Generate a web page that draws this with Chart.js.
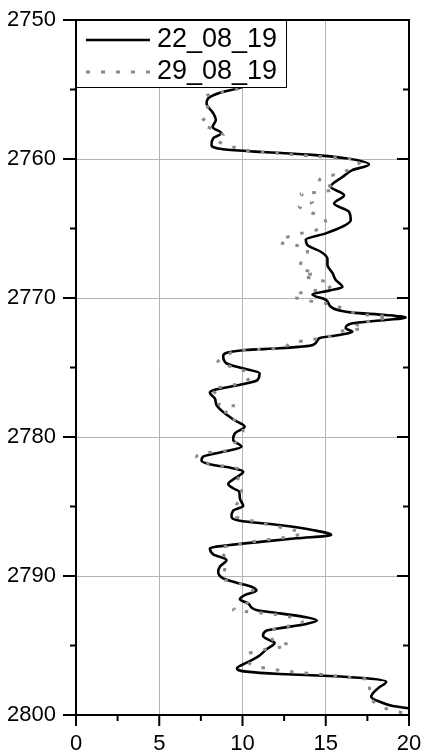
<!DOCTYPE html>
<html>
<head>
<meta charset="utf-8">
<script src="https://cdn.jsdelivr.net/npm/chart.js@4.4.1/dist/chart.umd.min.js"></script>
<style>
  html, body { margin: 0; padding: 0; background: #fff; }
  #wrap { width: 422px; height: 751px; position: relative; }
</style>
</head>
<body>
<div id="wrap"><canvas id="js-log-chart"></canvas></div>
<script>
// series labels
const seriesNames = ['22_08_19', '29_08_19']

// depth (m) and value pairs for the solid curve
const depth1 = [2754.3, 2754.85, 2755.23, 2755.64, 2756.0, 2756.7, 2757.2, 2757.7, 2758.15, 2758.5,
  2759.0, 2759.3, 2759.5, 2759.7, 2759.95, 2760.4, 2760.8, 2761.3, 2762.0, 2762.6,
  2763.2, 2763.8, 2764.4, 2764.87, 2765.35, 2765.8, 2766.2, 2766.67, 2767.15, 2767.6,
  2768.2, 2768.7, 2769.2, 2769.47, 2769.74, 2770.15, 2770.74, 2771.05, 2771.22, 2771.4,
  2771.58, 2771.82, 2772.18, 2772.42, 2772.66, 2772.9, 2773.38, 2773.62, 2773.74, 2774.17,
  2774.7, 2775.06, 2775.42, 2775.9, 2776.26, 2776.57, 2776.81, 2777.22, 2777.7, 2778.3,
  2778.78, 2779.26, 2779.74, 2780.22, 2780.7, 2781.06, 2781.41, 2781.7, 2782.01, 2782.2,
  2782.5, 2782.97, 2783.38, 2783.69, 2783.93, 2784.41, 2784.96, 2785.3, 2785.73, 2786.02,
  2786.33, 2786.69, 2787.05, 2787.29, 2787.53, 2787.77, 2788.01, 2788.44, 2788.85, 2789.33,
  2789.69, 2790.17, 2790.48, 2790.77, 2791.05, 2791.37, 2791.68, 2791.97, 2792.45, 2792.69,
  2792.97, 2793.21, 2793.45, 2793.76, 2793.93, 2794.32, 2794.6, 2794.8, 2795.28, 2795.8,
  2796.24, 2796.64, 2796.88, 2797.05, 2797.19, 2797.36, 2797.6, 2798.08, 2798.68, 2799.04,
  2799.35, 2799.52, 2799.7]
const value1 = [10.4, 9.93, 8.64, 7.94, 7.84, 8.24, 8.4, 8.2, 8.74, 8.24,
  8.14, 8.84, 11.2, 14.2, 16.2, 17.6, 16.6, 16.0, 15.3, 16.1,
  15.5, 16.4, 16.5, 16.0, 15.0, 13.8, 13.9, 14.7, 15.1, 15.1,
  15.4, 15.6, 16.0, 15.2, 14.2, 15.03, 15.43, 16.6, 18.6, 19.8,
  18.6, 16.6, 16.2, 16.6, 15.8, 14.6, 14.23, 12.2, 10.2, 8.84,
  9.04, 10.03, 11.03, 10.9, 9.8, 8.44, 8.04, 8.34, 8.44, 8.94,
  9.5, 10.13, 9.54, 9.44, 9.94, 8.84, 7.64, 7.54, 8.24, 9.24,
  10.04, 9.54, 9.14, 9.44, 9.8, 9.84, 10.04, 9.44, 9.34, 9.84,
  12.2, 14.2, 15.33, 13.24, 11.2, 9.24, 8.04, 8.24, 9.04, 8.64,
  8.54, 8.84, 9.64, 10.54, 10.84, 10.14, 9.84, 10.34, 10.84, 12.24,
  13.83, 14.47, 13.83, 12.24, 11.43, 11.23, 11.6, 11.93, 11.43, 10.93,
  10.24, 9.67, 10.24, 12.24, 15.23, 17.43, 18.63, 18.13, 17.73, 18.23,
  19.03, 20.03, 21.0]

// depth and value pairs for the dotted curve
const depth2 = [2754.3, 2754.9, 2755.2, 2755.5, 2756.2, 2756.8, 2757.4, 2757.9, 2758.3, 2758.6,
  2759.1, 2759.4, 2759.6, 2759.8, 2759.95, 2760.15, 2760.6, 2761.1, 2761.3, 2761.7,
  2762.1, 2762.4, 2762.5, 2762.75, 2763.1, 2763.4, 2763.7, 2764.1, 2764.5, 2765.2,
  2765.4, 2766.0, 2766.2, 2766.4, 2767.0, 2767.15, 2767.5, 2767.9, 2768.2, 2768.4,
  2768.66, 2769.07, 2769.4, 2769.55, 2769.86, 2770.2, 2770.4, 2770.74, 2771.05, 2771.25,
  2771.34, 2771.65, 2771.87, 2772.13, 2772.42, 2772.83, 2773.02, 2773.21, 2773.62, 2773.7,
  2773.74, 2774.03, 2774.65, 2774.99, 2775.54, 2776.02, 2776.33, 2776.57, 2777.05, 2777.7,
  2777.77, 2778.35, 2778.9, 2779.6, 2780.45, 2781.06, 2781.13, 2781.46, 2781.9, 2782.37,
  2783.33, 2783.81, 2784.41, 2784.89, 2785.73, 2786.04, 2786.33, 2786.57, 2786.93, 2787.17,
  2787.34, 2787.48, 2787.7, 2788.0, 2788.73, 2789.45, 2790.17, 2790.53, 2791.0, 2791.6,
  2792.2, 2792.45, 2792.57, 2792.69, 2792.88, 2793.3, 2793.65, 2793.93, 2794.72, 2794.96,
  2795.13, 2795.32, 2795.68, 2796.4, 2796.64, 2796.81, 2796.95, 2797.05, 2797.17, 2797.29,
  2797.39, 2797.72, 2798.08, 2798.8, 2799.4, 2799.69, 2799.88, 2800.1]
const value2 = [10.4, 9.84, 8.74, 7.74, 7.9, 7.94, 7.5, 8.3, 8.84, 8.44,
  9.34, 10.4, 12.2, 14.2, 16.2, 17.1, 16.6, 15.7, 14.8, 14.6,
  15.6, 14.5, 13.5, 13.9, 14.2, 13.4, 13.8, 14.6, 15.0, 14.2,
  13.3, 12.2, 13.2, 13.9, 13.9, 13.7, 13.5, 13.4, 14.4, 13.6,
  14.5, 15.4, 14.7, 13.8, 13.0, 14.0, 15.03, 16.0, 16.7, 17.7,
  18.8, 17.8, 16.8, 17.3, 15.8, 15.03, 14.03, 13.03, 12.03, 11.0,
  10.1, 9.2, 8.5, 9.5, 10.5, 10.1, 9.2, 8.1, 8.6, 8.6,
  9.6, 8.9, 9.7, 10.04, 9.54, 8.74, 7.84, 7.24, 7.94, 9.94,
  9.64, 9.94, 9.94, 9.64, 9.64, 10.6, 11.6, 12.6, 13.6, 12.8,
  11.9, 10.9, 9.94, 8.64, 8.94, 8.94, 8.74, 9.84, 10.6, 10.54,
  9.94, 9.44, 10.34, 11.43, 12.6, 13.6, 12.6, 11.63, 11.93, 12.83,
  12.24, 11.23, 10.24, 10.54, 11.43, 12.44, 13.43, 14.43, 15.43, 16.43,
  17.33, 17.73, 17.63, 17.73, 18.33, 19.03, 19.73, 20.5]

// tick positions
const xMajor = [0, 5, 10, 15, 20]
const xMinor = [2.5, 7.5, 12.5, 17.5]
const yMajor = [2750, 2760, 2770, 2780, 2790, 2800]
const yMinor = [2755, 2765, 2775, 2785, 2795]

const FONT = '"Liberation Sans", Arial, sans-serif'

function toPoints(depths, values) {
  return depths.map((d, i) => ({ x: values[i], y: d }))
}

// frame + tick marks drawn over the plot
const framePlugin = {
  id: 'frame',
  afterDraw(chart) {
    const { ctx, chartArea: a, scales } = chart
    ctx.save()
    ctx.strokeStyle = '#000'
    ctx.lineWidth = 2
    ctx.strokeRect(a.left, a.top, a.right - a.left, a.bottom - a.top)

    ctx.beginPath()
    yMajor.forEach(v => {
      const py = scales.y.getPixelForValue(v)
      ctx.moveTo(a.left - 13, py); ctx.lineTo(a.left, py)
      ctx.moveTo(a.right - 12, py); ctx.lineTo(a.right, py)
    })
    yMinor.forEach(v => {
      const py = scales.y.getPixelForValue(v)
      ctx.moveTo(a.left - 6, py); ctx.lineTo(a.left, py)
      ctx.moveTo(a.right - 6, py); ctx.lineTo(a.right, py)
    })
    xMajor.forEach(v => {
      const px = scales.x.getPixelForValue(v)
      ctx.moveTo(px, a.bottom); ctx.lineTo(px, a.bottom + 11)
    })
    xMinor.forEach(v => {
      const px = scales.x.getPixelForValue(v)
      ctx.moveTo(px, a.bottom); ctx.lineTo(px, a.bottom + 6)
    })
    ctx.stroke()
    ctx.restore()
  }
}

// boxed legend in the top-left corner of the plot
const boxLegendPlugin = {
  id: 'boxLegend',
  afterDatasetsDraw(chart) {
    const { ctx, chartArea: a } = chart
    const ds = chart.data.datasets
    const bx = a.left, by = a.top, bw = 210, bh = 67
    ctx.save()
    ctx.fillStyle = '#fff'
    ctx.fillRect(bx, by, bw, bh)
    ctx.strokeStyle = '#000'
    ctx.lineWidth = 1
    ctx.strokeRect(bx + 0.5, by + 0.5, bw, bh)

    const rows = [by + 20, by + 52]
    ds.forEach((d, i) => {
      const yy = rows[i]
      ctx.beginPath()
      ctx.strokeStyle = d.borderColor
      ctx.lineWidth = d.borderWidth
      ctx.setLineDash(i === 1 ? [4, 11] : [])
      ctx.moveTo(bx + 10, yy)
      ctx.lineTo(bx + 74, yy)
      ctx.stroke()
      ctx.setLineDash([])
      ctx.fillStyle = '#000'
      ctx.font = '27px ' + FONT
      ctx.textBaseline = 'middle'
      ctx.fillText(d.label, bx + 81, yy)
    })
    ctx.restore()
  }
}

const logContext = document.getElementById('js-log-chart').getContext('2d')

const logChart = new Chart(logContext, {
  type: 'line',
  data: {
    datasets: [
      {
        label: seriesNames[0],
        data: toPoints(depth1, value1),
        borderColor: '#000000',
        borderWidth: 2.6,
        pointRadius: 0,
        cubicInterpolationMode: 'monotone',
        order: 1,
      },
      {
        label: seriesNames[1],
        data: toPoints(depth2, value2),
        borderColor: '#8a8a8a',
        borderWidth: 3,
        borderDash: [3.5, 11],
        pointRadius: 0,
        cubicInterpolationMode: 'monotone',
        order: 0,
      },
    ],
  },
  options: {
    indexAxis: 'y',
    responsive: true,
    maintainAspectRatio: false,
    animation: false,
    layout: { padding: { top: 20, right: 13, left: 0, bottom: 0 } },
    plugins: {
      legend: { display: false },
      tooltip: { enabled: false },
    },
    scales: {
      x: {
        type: 'linear',
        position: 'bottom',
        min: 0,
        max: 20,
        ticks: {
          stepSize: 5,
          color: '#000',
          font: { family: FONT, size: 22 },
          padding: 16,
          maxRotation: 0,
        },
        grid: { color: '#b4b4b4', lineWidth: 1, drawTicks: false },
        border: { display: false },
        afterFit: (s) => {
          s.height = 36
          s.paddingLeft = 0
          s.paddingRight = 0
        },
      },
      y: {
        type: 'linear',
        position: 'left',
        reverse: true,
        min: 2750,
        max: 2800,
        ticks: {
          stepSize: 10,
          color: '#000',
          font: { family: FONT, size: 22 },
          padding: 20,
          callback: (v) => String(v),
        },
        grid: { color: '#b4b4b4', lineWidth: 1, drawTicks: false },
        border: { display: false },
        afterFit: (s) => {
          s.width = 76
          s.paddingTop = 0
          s.paddingBottom = 0
        },
      },
    },
  },
  plugins: [boxLegendPlugin, framePlugin],
})
</script>
</body>
</html>
